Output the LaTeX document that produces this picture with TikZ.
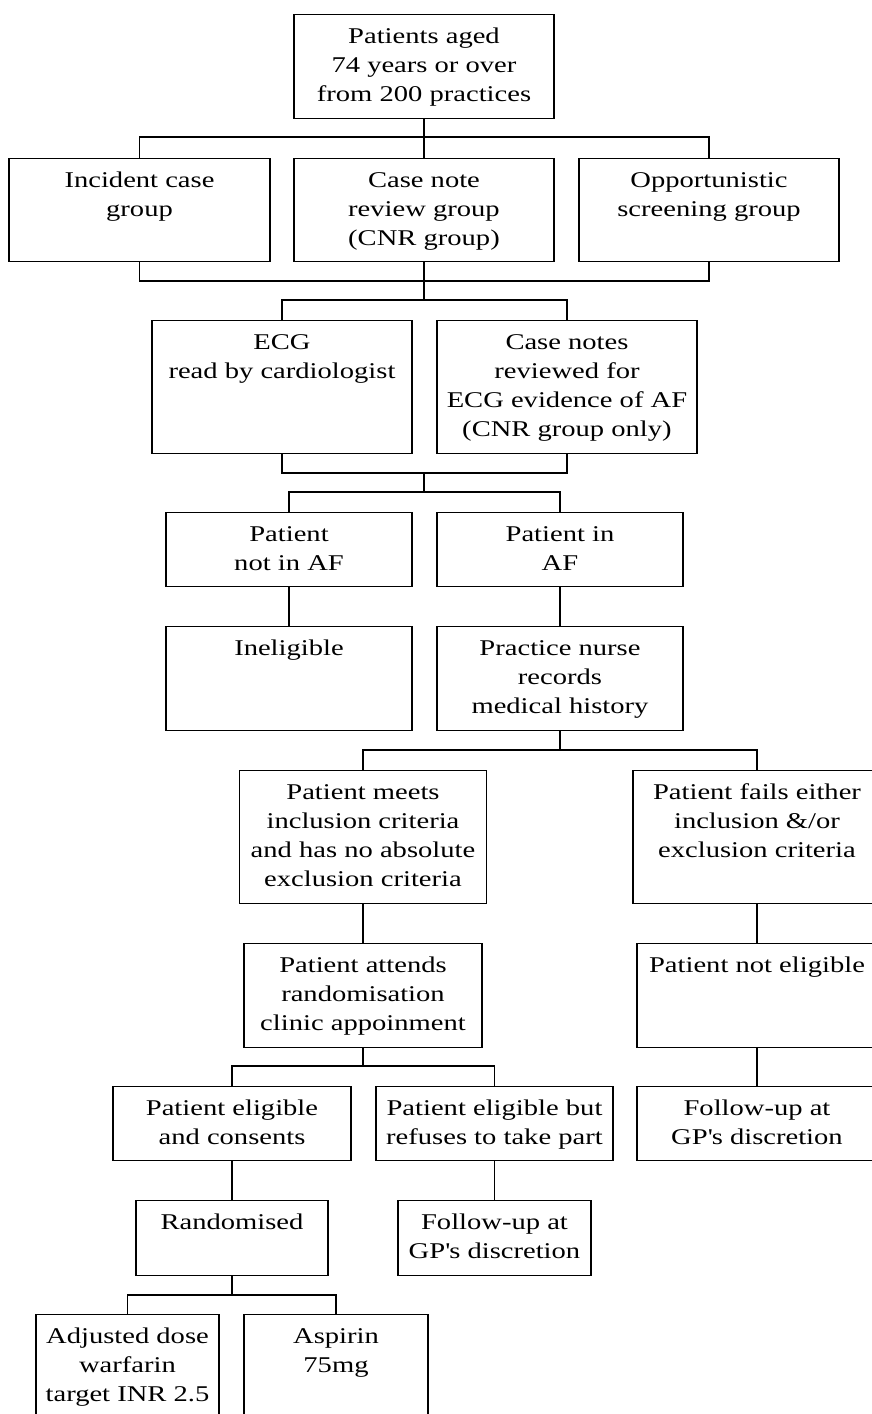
\documentclass[tikz,border=0pt]{standalone}
\usepackage{fontspec}
\setmainfont{Liberation Serif}[FakeStretch=1.27]
\usepackage{tikz}
\usetikzlibrary{calc}
\newcommand{\boxtext}[3]{\parbox[c][#2pt][t]{#1pt}{\centering\rule{0pt}{29pt}#3}}

\begin{document}
\begin{tikzpicture}[x=1pt,y=-1pt,
	box/.style={draw, line width=1.3pt, inner sep=0pt, anchor=north, font=\fontsize{22.5}{29}\selectfont},
	link/.style={line width=1.2pt}]
	\useasboundingbox (0,0) rectangle (872,1414);
	%Top of the tree
	\node [box] (patients) at (424,14) {\boxtext{260}{104}{Patients aged\\74 years or over\\from 200 practices}};
	%Three groups
	\node [box] (incident) at (139.5,158) {\boxtext{261}{103}{Incident case\\group}};
	\node [box] (cnr) at (424,158) {\boxtext{260}{103}{Case note\\review group\\(CNR group)}};
	\node [box] (opport) at (709,158) {\boxtext{260}{103}{Opportunistic\\screening group}};
	%ECG reading
	\node [box] (ecg) at (282,320) {\boxtext{260}{133}{ECG\\read by cardiologist}};
	\node [box] (casenotes) at (567,320) {\boxtext{260}{133}{Case notes\\reviewed for\\ECG evidence of AF\\(CNR group only)}};
	%AF or not
	\node [box] (notaf) at (289,512) {\boxtext{246}{74}{Patient\\not in AF}};
	\node [box] (inaf) at (560,512) {\boxtext{246}{74}{Patient in\\AF}};
	\node [box] (inelig) at (289,626) {\boxtext{246}{104}{Ineligible}};
	\node [box] (nurse) at (560,626) {\boxtext{246}{104}{Practice nurse\\records\\medical history}};
	%Criteria
	\node [box] (meets) at (363,770) {\boxtext{247}{133}{Patient meets\\inclusion criteria\\and has no absolute\\exclusion criteria}};
	\node [box] (fails) at (757,770) {\boxtext{248}{133}{Patient fails either\\inclusion \&/or\\exclusion criteria}};
	\node [box] (attends) at (363,943) {\boxtext{238}{104}{Patient attends\\randomisation\\clinic appoinment}};
	\node [box] (noteligible) at (757,943) {\boxtext{240}{104}{Patient not eligible}};
	%Consent
	\node [box] (consents) at (232,1086) {\boxtext{238}{74}{Patient eligible\\and consents}};
	\node [box] (refuses) at (494.5,1086) {\boxtext{237}{74}{Patient eligible but\\refuses to take part}};
	\node [box] (followR) at (757,1086) {\boxtext{240}{74}{Follow-up at\\GP\textquotesingle s discretion}};
	\node [box] (random) at (232,1200) {\boxtext{192}{75}{Randomised}};
	\node [box] (followM) at (494.5,1200) {\boxtext{193}{75}{Follow-up at\\GP\textquotesingle s discretion}};
	%Treatment arms
	\node [box] (warfarin) at (127.5,1314) {\boxtext{183}{130}{Adjusted dose\\warfarin\\target INR 2.5}};
	\node [box] (aspirin) at (336,1314) {\boxtext{184}{130}{Aspirin\\75mg}};
	%Junctions
	\coordinate (split1) at (424,137);
	\coordinate (merge1) at (424,281);
	\coordinate (split2) at (424,300);
	\coordinate (merge2) at (424,473);
	\coordinate (split3) at (424,492);
	\coordinate (split4) at (560,750);
	\coordinate (split5) at (363,1066);
	\coordinate (split6) at (232,1295);
	\draw [link] (patients.south) -- (split1);
	\draw [link] (incident.north) |- (split1) -| (opport.north);
	\draw [link] (split1) -- (cnr.north);
	\draw [link] (incident.south) |- (merge1) -| (opport.south);
	\draw [link] (cnr.south) -- (merge1) -- (split2);
	\draw [link] (ecg.north) |- (split2) -| (casenotes.north);
	\draw [link] (ecg.south) |- (merge2) -| (casenotes.south);
	\draw [link] (merge2) -- (split3);
	\draw [link] (notaf.north) |- (split3) -| (inaf.north);
	\draw [link] (notaf.south) -- (inelig.north);
	\draw [link] (inaf.south) -- (nurse.north);
	\draw [link] (nurse.south) -- (split4);
	\draw [link] (meets.north) |- (split4) -| (fails.north);
	\draw [link] (meets.south) -- (attends.north);
	\draw [link] (fails.south) -- (noteligible.north);
	\draw [link] (noteligible.south) -- (followR.north);
	\draw [link] (attends.south) -- (split5);
	\draw [link] (consents.north) |- (split5) -| (refuses.north);
	\draw [link] (consents.south) -- (random.north);
	\draw [link] (refuses.south) -- (followM.north);
	\draw [link] (random.south) -- (split6);
	\draw [link] (warfarin.north) |- (split6) -| (aspirin.north);
\end{tikzpicture}
\end{document}
